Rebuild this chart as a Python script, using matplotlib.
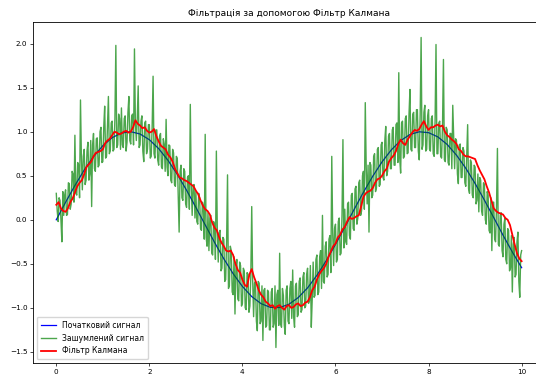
import numpy as np
import matplotlib
matplotlib.use("Agg")
import matplotlib.pyplot as plt

# original sine signal, step 0.2
t_clean = np.linspace(0, 10, 51)
clean_signal = [
    0.000, 0.199, 0.389, 0.565, 0.717, 0.841, 0.932, 0.985, 1.000, 0.974,
    0.909, 0.808, 0.675, 0.516, 0.335, 0.141, -0.058, -0.256, -0.443, -0.612,
    -0.757, -0.872, -0.952, -0.994, -0.996, -0.959, -0.883, -0.773, -0.631, -0.465,
    -0.279, -0.083, 0.117, 0.312, 0.494, 0.657, 0.794, 0.899, 0.968, 0.999,
    0.989, 0.941, 0.855, 0.734, 0.585, 0.412, 0.223, 0.025, -0.175, -0.366,
    -0.544,
]

# noisy measurements, step 0.02 (one row = 0.2 on the x axis)
t_noisy = np.linspace(0, 10, 501)
noisy_signal = [
    0.30, 0.10, -0.02, 0.25, 0.22, 0.00, -0.25, 0.32, 0.05, 0.28,
    0.34, 0.05, 0.06, 0.42, 0.41, 0.12, 0.18, 0.55, 0.52, 0.20,
    0.96, 0.30, 0.28, 0.65, 0.62, 0.25, 1.36, 0.70, 0.34, 0.72,
    0.80, 0.40, 0.45, 0.78, 0.88, 0.45, 0.52, 0.90, 0.15, 0.85,
    0.98, 0.58, 0.55, 0.92, 0.93, 0.60, 0.62, 1.00, 1.05, 0.65,
    0.66, 1.05, 1.29, 0.70, 0.72, 1.08, 1.40, 0.75, 0.78, 1.10,
    1.12, 0.78, 0.80, 1.15, 1.98, 0.82, 0.85, 1.20, 1.15, 0.80,
    1.27, 0.85, 0.82, 1.15, 1.18, 0.78, 0.88, 1.22, 1.40, 0.90,
    0.86, 1.18, 1.20, 0.85, 1.94, 1.10, 0.90, 1.15, 1.52, 0.82,
    0.85, 1.12, 1.18, 0.78, 0.66, 1.10, 1.12, 0.75, 0.80, 1.08,
    1.08, 0.70, 0.72, 1.05, 1.63, 0.75, 0.70, 1.02, 1.02, 0.68,
    0.62, 0.95, 0.98, 0.60, 0.58, 0.92, 0.86, 0.55, 1.14, 0.60,
    0.50, 0.85, 0.84, 0.45, 0.42, 0.80, 0.76, 0.40, 0.38, 0.72,
    0.70, 0.30, -0.14, 0.55, 0.62, 0.25, 0.22, 0.58, 0.55, 0.18,
    0.14, 0.48, 0.50, 0.12, 1.31, 0.40, 0.05, 0.38, 0.40, 0.02,
    0.32, -0.02, -0.05, 0.30, 0.25, -0.10, -0.12, 0.20, 0.16, -0.22,
    0.97, -0.20, -0.30, 0.08, -0.35, 0.02, 0.05, -0.38, -0.40, -0.02,
    -0.05, -0.45, 0.78, -0.10, -0.48, -0.15, -0.12, -0.58, -0.55, -0.20,
    -0.22, -0.70, -0.68, -0.25, 0.51, -0.78, -0.75, -0.30, -0.35, -0.82,
    -0.85, -0.42, -1.07, -0.55, -0.45, -0.90, -0.92, -0.48, -0.52, -0.98,
    -0.95, -0.55, -0.58, -1.00, -1.02, -0.60, -0.62, -1.05, -0.98, -0.65,
    0.15, -0.68, -1.10, -0.72, -0.70, -1.15, -1.26, -0.70, -0.72, -1.18,
    -1.15, -0.75, -1.37, -0.80, -0.78, -1.22, -1.20, -0.80, -0.82, -1.25,
    -1.25, -0.82, -0.78, -1.22, -1.18, -0.75, -1.45, -0.85, -0.80, -1.20,
    -0.38, -1.18, -1.22, -0.78, -0.86, -1.20, -1.30, -0.80, -0.75, -1.15,
    -1.18, -0.78, -0.70, -1.12, -0.57, -1.10, -1.22, -0.75, -0.72, -1.10,
    -1.08, -0.70, -0.66, -1.05, -1.02, -0.65, -0.60, -1.00, -0.98, -0.62,
    -0.55, -0.95, -0.92, -0.52, -1.22, -0.90, -0.48, -0.88, -0.86, -0.45,
    -0.40, -0.85, -0.82, -0.42, -0.35, -0.78, 0.05, -0.70, -0.72, -0.30,
    -0.25, -0.65, -0.62, -0.22, -0.18, -0.60, 0.72, -0.15, -0.52, -0.10,
    -0.05, -0.48, -0.45, -0.02, 0.02, -0.40, -0.38, 0.05, 0.91, -0.32,
    0.12, -0.25, -0.28, 0.18, 0.20, -0.18, -0.22, 0.28, 0.30, -0.10,
    -0.12, 0.35, 0.38, -0.05, 0.02, 0.42, 0.45, 0.05, 0.10, 0.50,
    0.55, 0.12, 1.33, 0.60, 0.18, 0.62, -0.14, 0.65, 0.62, 0.25,
    0.28, 0.72, 0.75, 0.32, 0.36, 0.80, 0.82, 0.38, 0.40, 0.85,
    0.88, 0.48, 0.45, 0.90, 1.06, 0.50, 0.55, 0.95, 0.98, 0.58,
    0.58, 1.02, 1.05, 0.62, 0.62, 1.08, 1.10, 0.65, 1.67, 0.70,
    0.53, 1.10, 1.12, 0.70, 0.72, 1.15, 1.18, 0.75, 0.76, 1.20,
    1.48, 0.80, 0.78, 1.20, 1.22, 0.82, 0.82, 1.25, 1.25, 0.78,
    0.68, 1.20, 2.07, 0.80, 0.85, 1.22, 1.30, 0.78, 0.80, 1.18,
    1.25, 0.80, 0.78, 1.15, 1.18, 0.75, 0.72, 1.12, 1.99, 0.75,
    0.75, 1.10, 1.12, 0.72, 0.70, 1.08, 1.82, 0.68, 0.66, 1.05,
    1.02, 0.65, 0.62, 0.98, 0.98, 0.58, 1.30, 0.95, 0.58, 0.92,
    0.90, 0.52, 0.41, 0.85, 0.86, 0.48, 0.48, 0.82, 0.78, 0.42,
    0.38, 0.75, 1.08, 0.35, 0.30, 0.68, 0.65, 0.28, 0.25, 0.62,
    0.60, 0.18, 0.22, 0.52, 0.09, 0.48, 0.45, 0.10, 0.05, 0.42,
    0.40, 0.00, -0.05, 0.32, 0.28, -0.12, -0.15, 0.25, -0.35, 0.20,
    0.20, -0.22, -0.25, 0.15, 0.81, -0.28, -0.30, 0.05, 0.08, -0.35,
    -0.42, -0.05, 0.02, -0.45, -0.50, -0.10, -0.12, -0.58, -0.55, -0.18,
    -0.82, -0.28, -0.20, -0.65, -0.62, -0.25, -0.14, -0.70, -0.88, -0.40,
    -0.35,
]

# Kalman filter estimate, step 0.05 (one row = 1.0 on the x axis)
t_kalman = np.linspace(0, 10, 201)
kalman_signal = [
    0.17, 0.20, 0.13, 0.10, 0.09, 0.13, 0.20, 0.24, 0.31, 0.38, 0.42, 0.45, 0.52, 0.60, 0.63, 0.66, 0.72, 0.76, 0.77, 0.78,
    0.80, 0.87, 0.90, 0.92, 0.96, 1.00, 0.99, 0.97, 0.98, 1.00, 1.01, 0.99, 1.00, 1.05, 1.13, 1.09, 1.07, 1.04, 1.05, 1.01,
    0.99, 1.00, 1.03, 0.95, 0.89, 0.84, 0.82, 0.80, 0.74, 0.71, 0.66, 0.58, 0.53, 0.48, 0.47, 0.45, 0.44, 0.42, 0.40, 0.38,
    0.33, 0.29, 0.22, 0.16, 0.12, 0.10, 0.06, -0.03, -0.09, -0.12, -0.20, -0.26, -0.30, -0.35, -0.36, -0.35, -0.40, -0.50, -0.57, -0.60,
    -0.68, -0.74, -0.76, -0.62, -0.56, -0.65, -0.72, -0.80, -0.85, -0.88, -0.93, -0.95, -0.98, -0.97, -1.01, -0.98, -0.97, -1.00, -1.02, -0.98,
    -0.97, -1.00, -0.99, -0.96, -0.95, -0.98, -0.97, -0.94, -0.93, -0.88, -0.80, -0.76, -0.68, -0.62, -0.58, -0.55, -0.50, -0.42, -0.36, -0.30,
    -0.27, -0.20, -0.17, -0.11, -0.08, -0.02, 0.03, 0.01, 0.02, 0.04, 0.05, 0.15, 0.26, 0.30, 0.32, 0.33, 0.36, 0.42, 0.46, 0.47,
    0.50, 0.55, 0.58, 0.66, 0.70, 0.73, 0.78, 0.86, 0.91, 0.87, 0.85, 0.91, 0.95, 0.99, 1.02, 1.01, 1.03, 1.08, 1.12, 1.06,
    1.02, 1.05, 1.05, 1.07, 1.08, 1.06, 1.07, 1.00, 0.96, 0.94, 0.91, 0.89, 0.86, 0.80, 0.78, 0.74, 0.72, 0.72, 0.71, 0.70,
    0.69, 0.62, 0.56, 0.51, 0.46, 0.38, 0.31, 0.22, 0.13, 0.10, 0.08, 0.07, 0.06, 0.02, 0.00, -0.06, -0.17, -0.28, -0.38, -0.44,
    -0.47,
]

fig = plt.figure(figsize=(5.36, 3.76), dpi=100)
ax = fig.add_axes([0.0616, 0.0346, 0.955, 0.907])

ax.plot(t_clean, clean_signal, color="b", lw=0.9, label="Початковий сигнал")
ax.plot(t_noisy, noisy_signal, color="g", lw=1.0, alpha=0.7, label="Зашумлений сигнал")
ax.plot(t_kalman, kalman_signal, color="r", lw=1.3, label="Фільтр Калмана")

ax.set_title("Фільтрація за допомогою Фільтр Калмана", fontsize=6.5, pad=4)
ax.set_xticks([0, 2, 4, 6, 8, 10])
ax.set_yticks([-1.5, -1.0, -0.5, 0.0, 0.5, 1.0, 1.5, 2.0])
ax.tick_params(labelsize=5.2, length=2, width=0.5, pad=2)
for s in ax.spines.values():
    s.set_linewidth(0.6)

ax.legend(loc="lower left", fontsize=5.5, handlelength=2.0, borderpad=0.5,
          labelspacing=0.5, frameon=True, fancybox=True, framealpha=0.8)

fig.savefig("out.png", dpi=100)
